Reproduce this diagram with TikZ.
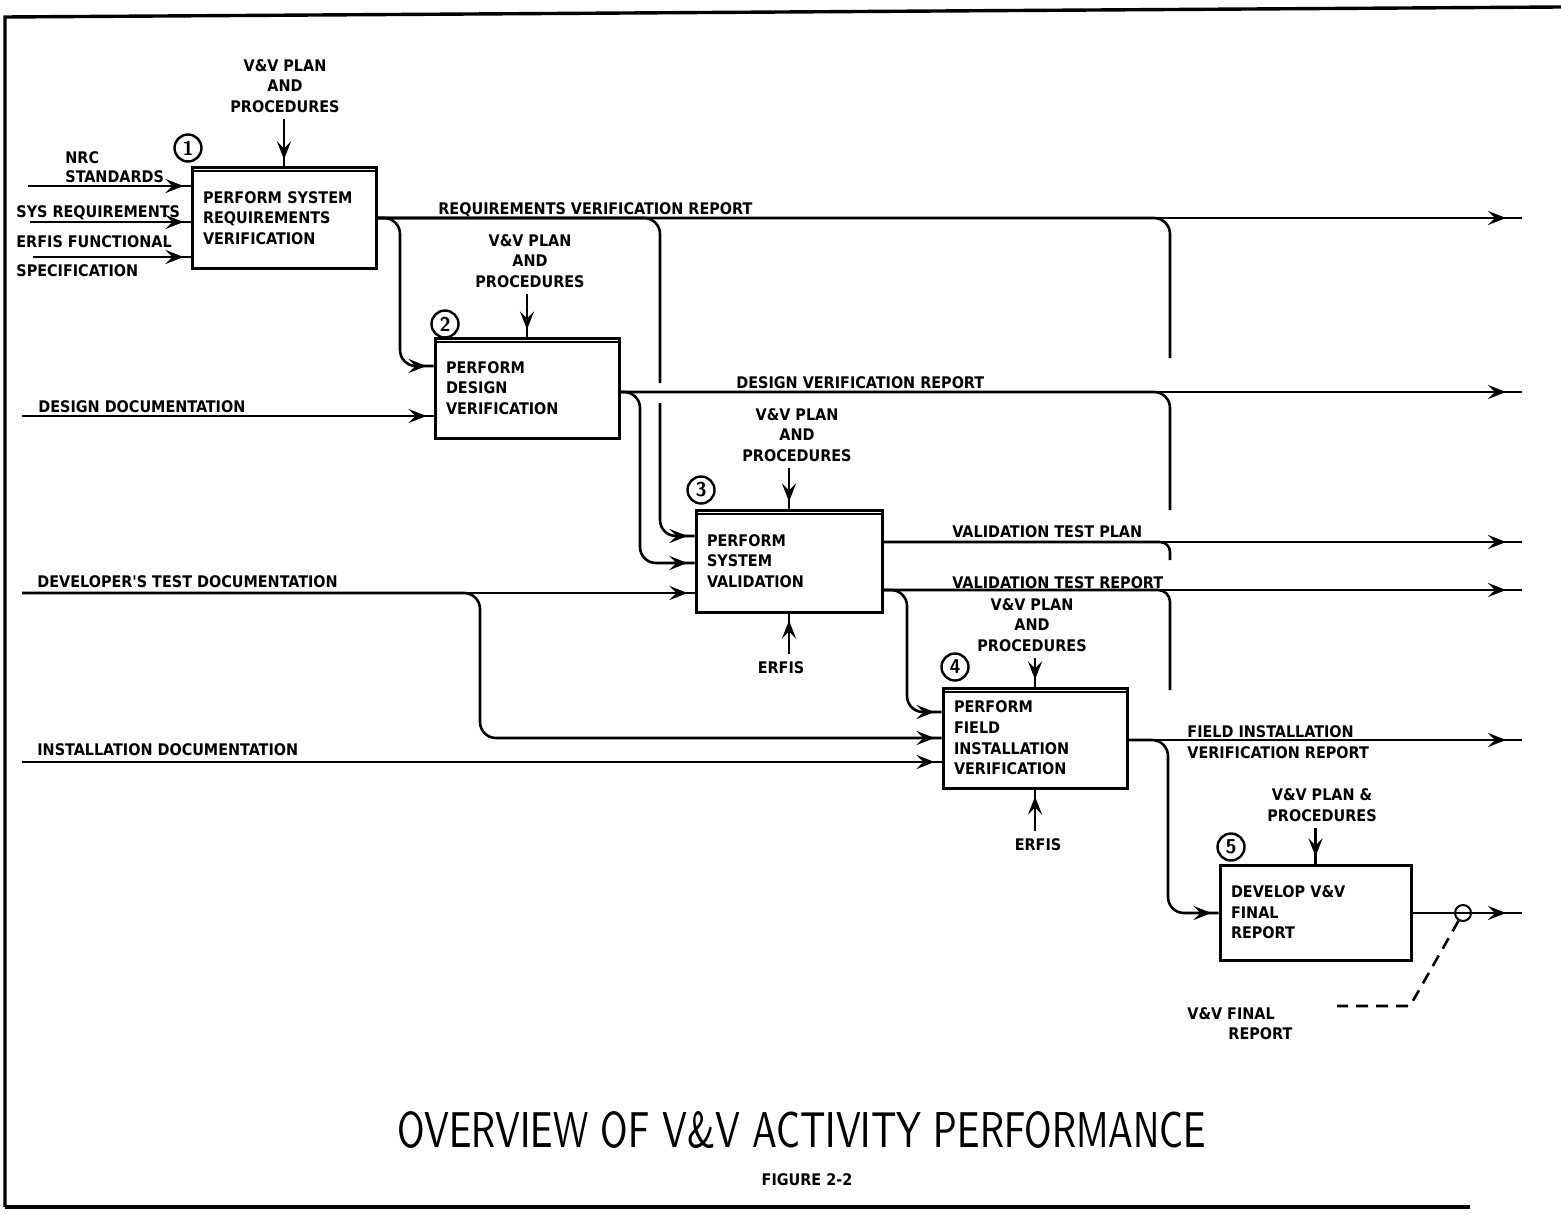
\documentclass[tikz,border=0pt]{standalone}
\usepackage{graphicx}
\usepackage{fontspec}
\newfontfamily\lbl{DejaVu Sans Condensed Bold}
\usetikzlibrary{arrows.meta,decorations.markings}
\begin{document}
\begin{tikzpicture}[x=0.5pt,y=-0.5pt,
  >={Stealth[length=9pt,width=7pt,inset=3.5pt]},
  every node/.style={font=\lbl\fontsize{8}{10.3}\selectfont, inner sep=0pt},
  box/.style={draw, line width=1.5pt, align=left, inner xsep=5.5pt, minimum width=92pt, minimum height=50pt, text width=81pt},
  conn/.style={line width=1.3pt, rounded corners=8pt},
  arrowat/.style={postaction={decorate}, decoration={markings, mark=at position -#1 with {\arrow{>}}}},
  arrowat/.default=3.5pt,
  lab/.style={anchor=base west},
  ctl/.style={align=center},
  num/.style={draw, circle, line width=1.2pt, minimum size=13.5pt, inner sep=0pt, font=\sffamily\bfseries\fontsize{10}{10}\selectfont},
  frame/.style={line width=1.7pt}
]
\useasboundingbox (0,0) rectangle (1561,1214);

% frame
\draw[frame] (5,1207) -- (5,17) -- (1561,7);
\draw[frame] (5,1207) -- (1470,1207);

% boxes
\node[box] (b1) at (284,218) {PERFORM SYSTEM\\REQUIREMENTS\\VERIFICATION};
\node[box] (b2) at (527,388) {PERFORM\\DESIGN\\VERIFICATION};
\node[box, minimum width=93pt, minimum height=51pt, text width=82pt] (b3) at (789,561) {PERFORM\\SYSTEM\\VALIDATION};
\node[box] (b4) at (1035,738) {PERFORM\\FIELD\\INSTALLATION\\VERIFICATION};
\node[box, minimum width=95.5pt, minimum height=47.5pt, text width=84.5pt] (b5) at (1315.5,912.5) {DEVELOP V\&V\\FINAL\\REPORT};
\foreach \b in {b1,b2,b3,b4}{
  \draw[line width=1pt] ([yshift=-2.5pt]\b.north west) -- ([yshift=-2.5pt]\b.north east);
}

% numbers
\node[num] (n1) at (188,148) {1};
\node[num] (n2) at (445,324) {2};
\node[num] (n3) at (701,490) {3};
\node[num] (n4) at (955,667) {4};
\node[num] (n5) at (1231,847) {5};

% controls
\node[ctl] (c1) at (285,86) {V\&V PLAN\\AND\\PROCEDURES};
\node[ctl] (c2) at (530,261) {V\&V PLAN\\AND\\PROCEDURES};
\node[ctl] (c3) at (797,435) {V\&V PLAN\\AND\\PROCEDURES};
\node[ctl] (c4) at (1032,625) {V\&V PLAN\\AND\\PROCEDURES};
\node[ctl] (c5) at (1322,805) {V\&V PLAN \&\\PROCEDURES};
\draw[conn,arrowat,shorten <=3pt] (b1.north |- c1.south) -- (b1.north);
\draw[conn,arrowat,shorten <=3pt] (b2.north |- c2.south) -- (b2.north);
\draw[conn,arrowat,shorten <=3pt] (b3.north |- c3.south) -- (b3.north);
\draw[conn,arrowat,shorten <=3pt] (b4.north |- c4.south) -- (b4.north);
\draw[conn,arrowat,shorten <=3pt] (b5.north |- c5.south) -- (b5.north);

% mechanisms
\node (m3) at (781,668) {ERFIS};
\node (m4) at (1038,845) {ERFIS};
\draw[conn,arrowat,shorten <=4pt] (b3.south |- m3.north) -- (b3.south);
\draw[conn,arrowat,shorten <=4pt] (b4.south |- m4.north) -- (b4.south);

% inputs
\coordinate (i1) at (28,186);
\coordinate (i2) at (30,222);
\coordinate (i3) at (33,257);
\coordinate (i4) at (22,416);
\coordinate (i5) at (22,593);
\coordinate (i6) at (22,762);
\draw[conn,arrowat] (i1) -- (b1.west |- i1);
\draw[conn,arrowat] (i2) -- (b1.west |- i2);
\draw[conn,arrowat] (i3) -- (b1.west |- i3);
\draw[conn,arrowat] (i4) -- (b2.west |- i4);
\draw[conn,arrowat] (i5) -- (b3.west |- i5);
\draw[conn,arrowat] (i6) -- (b4.west |- i6);
\node[lab] (t1) at (65,164) {NRC};
\node[lab] (t2) at (65,183) {STANDARDS};
\node[lab] (t3) at (16,218) {SYS REQUIREMENTS};
\node[lab] (t4) at (16,247) {ERFIS FUNCTIONAL};
\node[lab] (t5) at (16,276) {SPECIFICATION};
\node[lab] (t6) at (38,412) {DESIGN DOCUMENTATION};
\node[lab] (t7) at (37,587) {DEVELOPER'S TEST DOCUMENTATION};
\node[lab] (t8) at (37,755) {INSTALLATION DOCUMENTATION};

% outputs
\coordinate (o1) at (1522,218);
\coordinate (o2) at (1522,392);
\coordinate (o3) at (1522,542);
\coordinate (o4) at (1522,590);
\coordinate (o5) at (1522,740);
\coordinate (o6) at (1522,913);
\draw[conn,arrowat=8pt] (b1.east) -- (o1);
\draw[conn,arrowat=8pt] (b2.east |- o2) -- (o2);
\draw[conn,arrowat=8pt] (b3.east |- o3) -- (o3);
\draw[conn,arrowat=8pt] (b3.east |- o4) -- (o4);
\draw[conn,arrowat=8pt] (b4.east |- o5) -- (o5);
\draw[conn,arrowat=8pt] (b5.east |- o6) -- (o6);
\node[lab] (r1) at (438,214) {REQUIREMENTS VERIFICATION REPORT};
\node[lab] (r2) at (736,388) {DESIGN VERIFICATION REPORT};
\node[lab] (r3) at (952,537) {VALIDATION TEST PLAN};
\node[lab] (r4) at (952,588) {VALIDATION TEST REPORT};
\node[lab] (r5) at (1187,737) {FIELD INSTALLATION};
\node[lab] (r6) at (1187,758) {VERIFICATION REPORT};

% branches
\draw[conn,arrowat] (b1.east) -| (400,300) |- (b2.west |- 0,366);
\draw[conn] (b1.east) -| (660,383);
\draw[conn,arrowat] (660,403) |- (b3.west |- 0,536);
\draw[conn,arrowat] (b2.east |- o2) -| (640,500) |- (b3.west |- 0,563);
\draw[conn,arrowat] (b3.east |- o4) -| (907,650) |- (b4.west |- 0,712);
\draw[conn,arrowat] (i5) -| (480,650) |- (b4.west |- 0,738);

% collector to box 5
\draw[conn] (b1.east) -| (1170,358);
\draw[conn] (b2.east |- o2) -| (1170,510);
\draw[conn,rounded corners=5pt] (b3.east |- o3) -| (1170,560);
\draw[conn,rounded corners=6pt] (b3.east |- o4) -| (1170,690);
\draw[conn,arrowat] (b4.east |- o5) -| (1168,850) |- (b5.west |- o6);

% tunnel and final report
\node[draw, circle, minimum size=8pt, line width=1pt] (tun) at (1463,913) {};
\coordinate (dk) at (1410,1006);
\coordinate (dend) at (1337,1006);
\draw[line width=1.3pt, dash pattern=on 6pt off 4pt] (tun.240) -- (dk) -- (dend);
\node[lab] (f1) at (1187,1019) {V\&V FINAL};
\node[lab] (f2) at (1228,1039) {REPORT};

% title
\node (title) at (802,1130) {\resizebox{404pt}{18pt}{\sffamily OVERVIEW OF V\&V ACTIVITY PERFORMANCE}};
\node (fig) at (807,1180) {FIGURE 2-2};
\end{tikzpicture}
\end{document}
